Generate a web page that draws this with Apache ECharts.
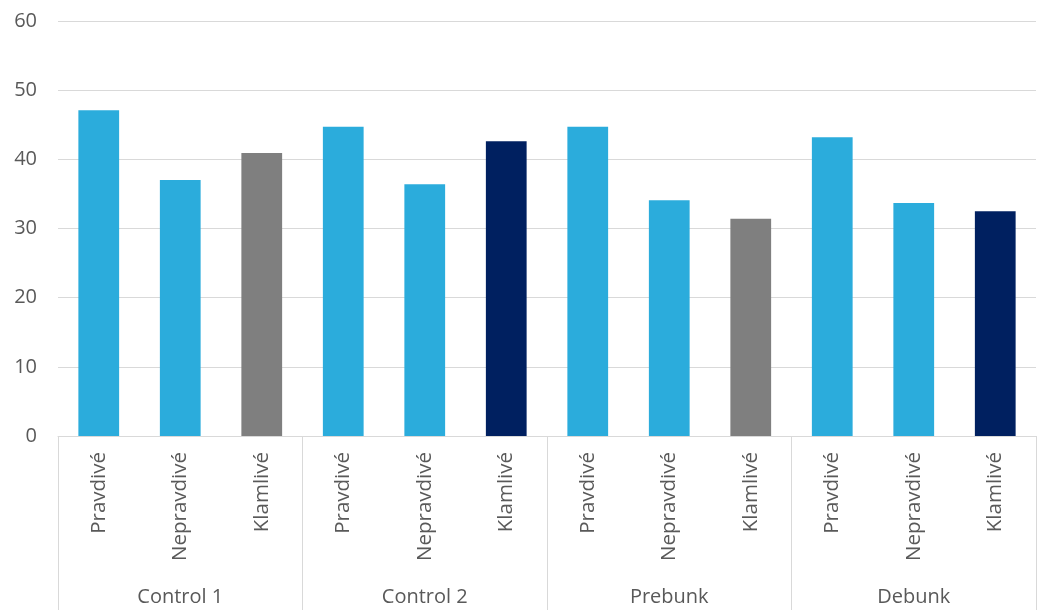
<!DOCTYPE html>
<html>
<head>
<meta charset="utf-8">
<script src="https://cdn.jsdelivr.net/npm/echarts@6/dist/echarts.min.js"></script>
<style>
  html, body { margin: 0; padding: 0; background: #ffffff; }
  #chart { width: 1037px; height: 610px; }
</style>
</head>
<body>
<div id="chart"></div>
<script>
// Groups and the statement types shown within each group
const groups = ['Control 1', 'Control 2', 'Prebunk', 'Debunk'];
const statementTypes = ['Pravdivé', 'Nepravdivé', 'Klamlivé'];

// Values per group, in statement-type order
const control1 = [47.1, 37.0, 40.9];
const control2 = [44.7, 36.4, 42.6];
const prebunk = [44.7, 34.1, 31.4];
const debunk = [43.2, 33.7, 32.5];

// Bar colours per group, in statement-type order
const blue = '#2BACDC';
const grey = '#7F7F7F';
const navy = '#002060';
const groupColors = [
  [blue, blue, grey],
  [blue, blue, navy],
  [blue, blue, grey],
  [blue, blue, navy]
];

const yTicks = { min: 0, max: 60, interval: 10 };

const groupValues = [control1, control2, prebunk, debunk];
const innerCategories = [];
const barData = [];
groups.forEach((g, gi) => {
  statementTypes.forEach((t, ti) => {
    innerCategories.push(t);
    barData.push({ value: groupValues[gi][ti], itemStyle: { color: groupColors[gi][ti] } });
  });
});

const textColor = '#595959';
const lineColor = '#D9D9D9';
const font = '"Open Sans", sans-serif';

const chart = echarts.init(document.getElementById('chart'), null, { renderer: 'canvas' });
chart.setOption({
  animation: false,
  backgroundColor: '#ffffff',
  grid: { left: 58, right: 1, top: 21, bottom: 174, containLabel: false },
  xAxis: [
    {
      type: 'category',
      data: innerCategories,
      position: 'bottom',
      axisLine: { show: true, lineStyle: { color: lineColor, width: 1 } },
      axisTick: { show: false },
      axisLabel: {
        rotate: 90,
        interval: 0,
        margin: 16,
        color: textColor,
        fontSize: 20.5,
        fontFamily: font
      },
      splitLine: { show: false }
    },
    {
      type: 'category',
      data: groups,
      position: 'bottom',
      axisLine: { show: false },
      axisTick: { show: true, length: 174, interval: 0, lineStyle: { color: lineColor, width: 1 } },
      axisLabel: {
        interval: 0,
        margin: 151,
        color: textColor,
        fontSize: 20,
        fontFamily: font
      },
      splitLine: { show: false }
    }
  ],
  yAxis: {
    type: 'value',
    min: yTicks.min,
    max: yTicks.max,
    interval: yTicks.interval,
    axisLine: { show: false },
    axisTick: { show: false },
    axisLabel: { color: textColor, fontSize: 20, fontFamily: font, margin: 21 },
    splitLine: { lineStyle: { color: lineColor, width: 1 } }
  },
  series: [
    {
      type: 'bar',
      xAxisIndex: 0,
      data: barData,
      barWidth: '50%'
    }
  ]
});
</script>
</body>
</html>
